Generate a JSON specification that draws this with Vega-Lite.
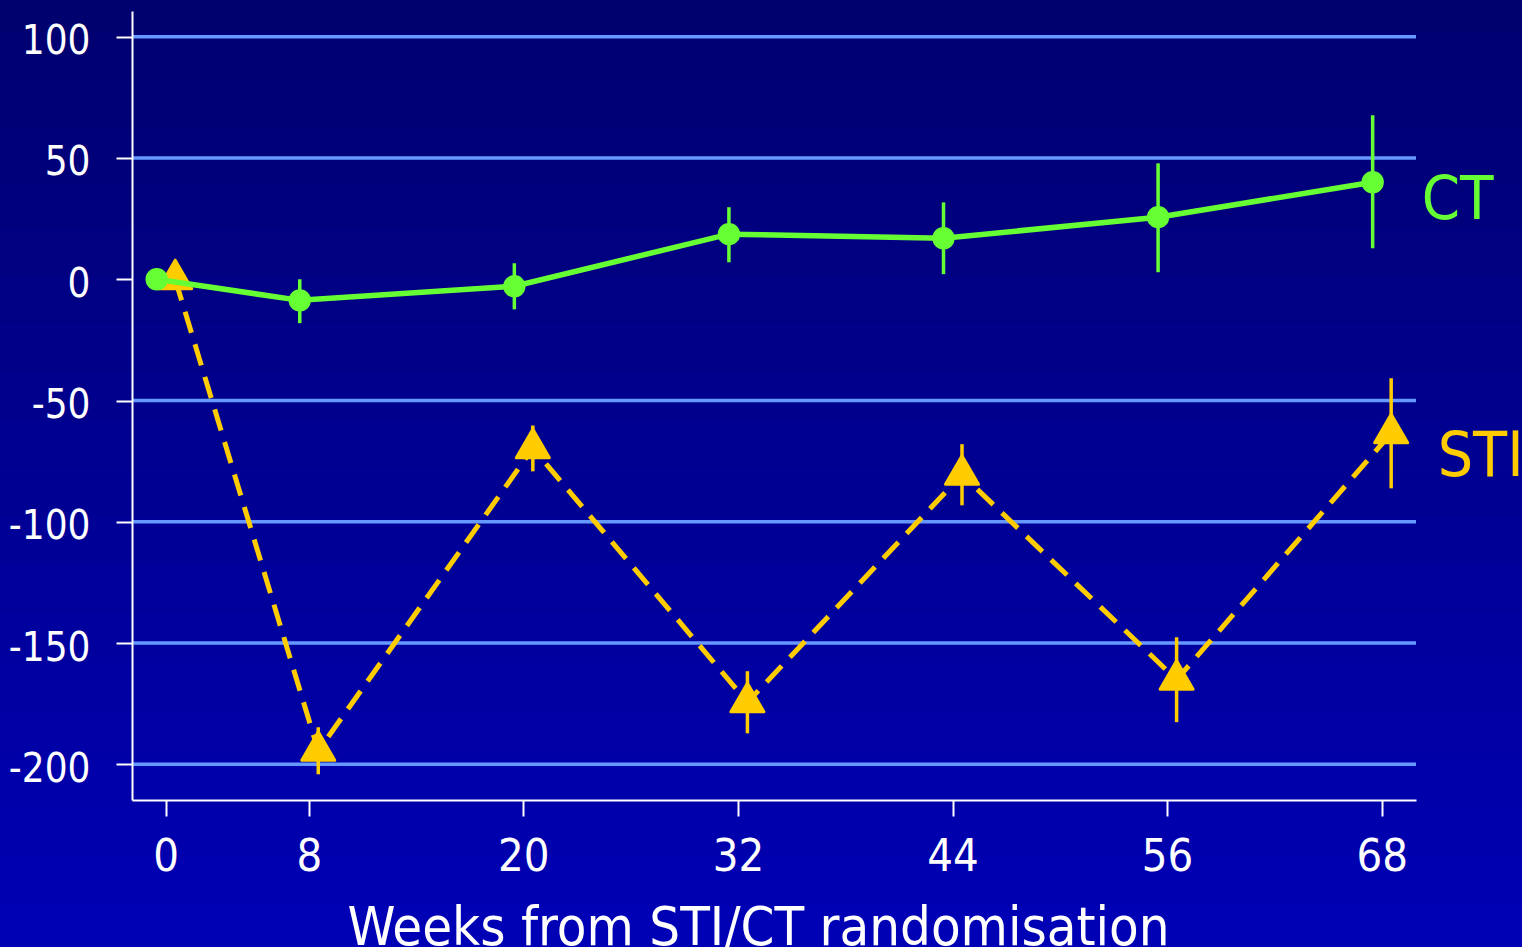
{
  "$schema": "https://vega.github.io/schema/vega-lite/v6.json",
  "width": 1284,
  "height": 789,
  "autosize": {"type": "none"},
  "padding": {"left": 132, "top": 11, "right": 106, "bottom": 147},
  "background": "#000090",
  "config": {"view": {"stroke": null}, "font": "DejaVu Sans Condensed"},
  "datasets": {
    "series": [
      {"group": "CT", "week": 0, "value": 0, "lo": 0, "hi": 0},
      {"group": "CT", "week": 8, "value": -8.7, "lo": -18.1, "hi": 0},
      {"group": "CT", "week": 20, "value": -2.9, "lo": -12.4, "hi": 6.6},
      {"group": "CT", "week": 32, "value": 18.6, "lo": 7.0, "hi": 29.7},
      {"group": "CT", "week": 44, "value": 16.9, "lo": 2.1, "hi": 31.7},
      {"group": "CT", "week": 56, "value": 25.6, "lo": 2.9, "hi": 47.8},
      {"group": "CT", "week": 68, "value": 40.0, "lo": 12.8, "hi": 67.6},
      {"group": "STI", "week": 0, "value": 0, "lo": 0, "hi": 0},
      {"group": "STI", "week": 8, "value": -194.4, "lo": -204.1, "hi": -184.7},
      {"group": "STI", "week": 20, "value": -69.7, "lo": -79.2, "hi": -60.3},
      {"group": "STI", "week": 32, "value": -174.4, "lo": -187.2, "hi": -161.6},
      {"group": "STI", "week": 44, "value": -80.6, "lo": -93.2, "hi": -68.0},
      {"group": "STI", "week": 56, "value": -165.1, "lo": -182.6, "hi": -147.6},
      {"group": "STI", "week": 68, "value": -63.5, "lo": -86.2, "hi": -40.8}
    ],
    "gridlines": [
      {"level": 100}, {"level": 50}, {"level": -50}, {"level": -100}, {"level": -150}, {"level": -200}
    ],
    "bands": [
      {"y0": 120, "y1": 100}, {"y0": 100, "y1": 80}, {"y0": 80, "y1": 60}, {"y0": 60, "y1": 40},
      {"y0": 40, "y1": 20}, {"y0": 20, "y1": 0}, {"y0": 0, "y1": -20}, {"y0": -20, "y1": -40},
      {"y0": -40, "y1": -60}, {"y0": -60, "y1": -80}, {"y0": -80, "y1": -100}, {"y0": -100, "y1": -120},
      {"y0": -120, "y1": -140}, {"y0": -140, "y1": -160}, {"y0": -160, "y1": -180}, {"y0": -180, "y1": -200},
      {"y0": -200, "y1": -220}, {"y0": -220, "y1": -240}, {"y0": -240, "y1": -260}, {"y0": -260, "y1": -280},
      {"y0": -280, "y1": -300}, {"y0": -300, "y1": -320}, {"y0": -320, "y1": -340}, {"y0": -340, "y1": -360}
    ]
  },
  "encoding": {
    "x": {
      "field": "week",
      "type": "quantitative",
      "scale": {"domain": [-1.885, 69.92], "nice": false, "zero": false},
      "axis": {
        "title": "Weeks from STI/CT randomisation",
        "values": [0, 8, 20, 32, 44, 56, 68],
        "grid": false,
        "zindex": 1,
        "domainColor": "#ffffff",
        "domainWidth": 2,
        "tickColor": "#ffffff",
        "tickWidth": 2,
        "tickSize": 16,
        "labelColor": "#ffffff",
        "labelFontSize": 45,
        "labelPadding": 18,
        "labelFlush": false,
        "labelOverlap": false,
        "titleColor": "#ffffff",
        "titleFontSize": 54,
        "titleFontWeight": "normal",
        "titleX": 626,
        "titleY": 144,
        "titleAlign": "center",
        "titleBaseline": "alphabetic"
      }
    },
    "y": {
      "field": "value",
      "type": "quantitative",
      "scale": {"domain": [-214.7, 110.6], "nice": false, "zero": false},
      "axis": {
        "title": null,
        "values": [100, 50, 0, -50, -100, -150, -200],
        "grid": false,
        "zindex": 1,
        "domainColor": "#ffffff",
        "domainWidth": 2,
        "tickColor": "#ffffff",
        "tickWidth": 2,
        "tickSize": 16,
        "labelColor": "#ffffff",
        "labelFontSize": 40,
        "labelPadding": 26,
        "labelOffset": 5,
        "labelFlush": false,
        "labelOverlap": false,
        "labelExpr": "datum.value < 0 ? '-' + abs(datum.value) : '' + datum.value"
      }
    }
  },
  "layer": [
    {
      "data": {"name": "bands"},
      "mark": {"type": "rect", "strokeWidth": 300},
      "encoding": {
        "x": null,
        "y": {"field": "y0", "type": "quantitative"},
        "y2": {"field": "y1"},
        "fill": {
          "field": "y0", "type": "quantitative", "legend": null,
          "scale": {"domain": [-327.2, 63.3], "range": ["#0000b6", "#00006e"], "interpolate": "rgb", "clamp": true, "zero": false, "nice": false}
        },
        "stroke": {
          "field": "y0", "type": "quantitative", "legend": null,
          "scale": {"domain": [-327.2, 63.3], "range": ["#0000b6", "#00006e"], "interpolate": "rgb", "clamp": true, "zero": false, "nice": false}
        }
      }
    },
    {
      "data": {"name": "gridlines"},
      "mark": {"type": "rule", "color": "#6699ff", "strokeWidth": 3.5},
      "encoding": {"x": null, "y": {"field": "level", "type": "quantitative"}}
    },
    {
      "data": {"values": [{}]},
      "mark": {"type": "rule", "color": "#ffffff", "strokeWidth": 3.5},
      "encoding": {"x": null, "y": {"datum": 0, "type": "quantitative"}}
    },
    {
      "data": {"name": "series"},
      "transform": [{"filter": "datum.group === 'STI'"}],
      "mark": {"type": "rule", "color": "#ffcc00", "strokeWidth": 3.5, "xOffset": 9.5},
      "encoding": {"y": {"field": "lo", "type": "quantitative"}, "y2": {"field": "hi"}}
    },
    {
      "data": {"name": "series"},
      "transform": [{"filter": "datum.group === 'STI'"}],
      "mark": {"type": "line", "color": "#ffcc00", "strokeWidth": 5, "strokeDash": [22, 12], "xOffset": 9.5}
    },
    {
      "data": {"name": "series"},
      "transform": [{"filter": "datum.group === 'STI'"}],
      "mark": {
        "type": "point", "shape": "M0,-1.155L-1,0.577L1,0.577Z", "size": 1089, "filled": true,
        "color": "#ffcc00", "stroke": "#ffcc00", "strokeWidth": 3, "strokeJoin": "round", "opacity": 1, "xOffset": 9.5
      }
    },
    {
      "data": {"name": "series"},
      "transform": [{"filter": "datum.group === 'CT'"}],
      "mark": {"type": "rule", "color": "#66ff33", "strokeWidth": 3.5, "xOffset": -9},
      "encoding": {"y": {"field": "lo", "type": "quantitative"}, "y2": {"field": "hi"}}
    },
    {
      "data": {"name": "series"},
      "transform": [{"filter": "datum.group === 'CT'"}],
      "mark": {"type": "line", "color": "#66ff33", "strokeWidth": 5.5, "xOffset": -9}
    },
    {
      "data": {"name": "series"},
      "transform": [{"filter": "datum.group === 'CT'"}],
      "mark": {"type": "point", "shape": "circle", "size": 500, "filled": true, "color": "#66ff33", "opacity": 1, "xOffset": -9}
    },
    {
      "data": {"name": "series"},
      "transform": [{"filter": "datum.group === 'CT' && datum.week === 68"}],
      "mark": {"type": "text", "color": "#66ff33", "fontSize": 61, "align": "left", "baseline": "alphabetic", "dx": 40, "dy": 37},
      "encoding": {"text": {"field": "group"}}
    },
    {
      "data": {"name": "series"},
      "transform": [{"filter": "datum.group === 'STI' && datum.week === 68"}],
      "mark": {"type": "text", "color": "#ffcc00", "fontSize": 62, "align": "left", "baseline": "alphabetic", "dx": 56, "dy": 43},
      "encoding": {"text": {"field": "group"}}
    }
  ]
}
